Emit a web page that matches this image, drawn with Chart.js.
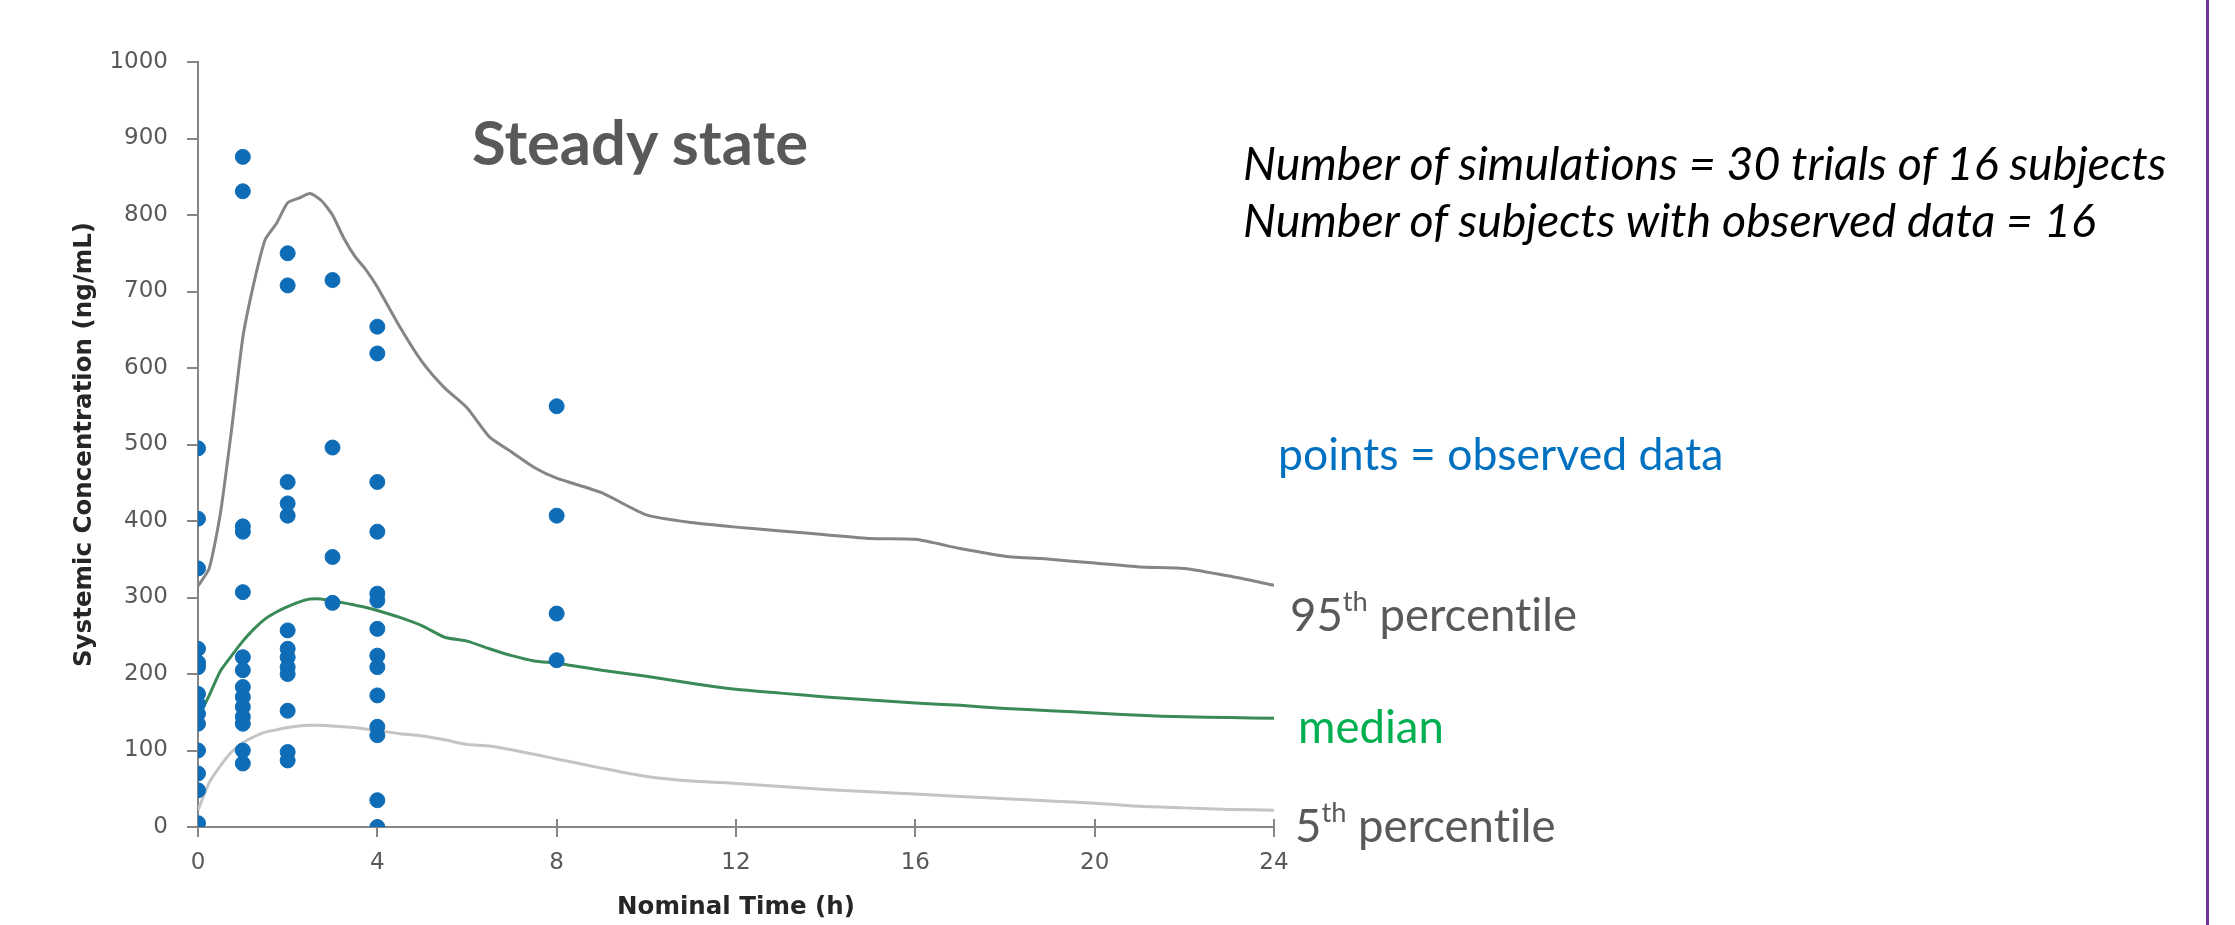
<!DOCTYPE html>
<html>
<head>
<meta charset="utf-8">
<script src="https://cdn.jsdelivr.net/npm/chart.js@4/dist/chart.umd.min.js"></script>
<style>
  html, body { margin:0; padding:0; background:#ffffff; overflow:hidden; }
  #wrap { position:relative; width:2235px; height:925px; }
  canvas { position:absolute; left:0; top:0; }
  .lbl { position:absolute; white-space:nowrap; line-height:1; font-family:Lato, "Open Sans", sans-serif; font-variant-ligatures:none; font-feature-settings:"liga" 0; }
  .mk { display:inline-block; width:0; height:0; vertical-align:baseline; }
  sup { font-size:0.6em; vertical-align:0.72em; line-height:0; }
  #vline { position:absolute; left:2206px; top:0; width:3px; height:925px; background:#7030A0; }
</style>
</head>
<body>
<div id="wrap">
  <canvas id="c" width="2235" height="925"></canvas>
  <div class="lbl" id="tSteady" style="font-size:61.5px;font-weight:bold;color:#595959;">Steady state<span class="mk"></span></div>
  <div class="lbl" id="tSim" style="font-size:46.5px;font-style:italic;color:#000000;">Number of simulations = 30 trials of 16 subjects<span class="mk"></span></div>
  <div class="lbl" id="tObs" style="font-size:46.5px;font-style:italic;color:#000000;">Number of subjects with observed data = 16<span class="mk"></span></div>
  <div class="lbl" id="tPts" style="font-size:44.5px;color:#0070C0;">points = observed data<span class="mk"></span></div>
  <div class="lbl" id="t95" style="font-size:45.5px;color:#595959;">95<sup>th</sup> percentile<span class="mk"></span></div>
  <div class="lbl" id="tMed" style="font-size:45.5px;color:#00B050;">median<span class="mk"></span></div>
  <div class="lbl" id="t5" style="font-size:45.5px;color:#595959;">5<sup>th</sup> percentile<span class="mk"></span></div>
  <div id="vline"></div>
</div>
<script>
// ---- data ----
const timeGrid = [0,0.25,0.5,0.75,1,1.25,1.5,1.75,2,2.25,2.5,2.75,3,3.25,3.5,3.75,4,4.5,5,5.5,6,6.5,7,7.5,8,9,10,11,12,13,14,15,16,17,18,19,20,21,22,23,24];
const p95Values = [315,338,410,520,640,712,768,789,816,822,828,819,800,770,746,728,706,654,608,574,548,510,490,470,456,437,408,398,392,387,382,377,376,364,354,350,345,340,338,328,316];
const medianValues = [142,172,204,224,243,259,272,281,288,294,298,298,295,293,290,287,283,274,263,248,243,233,224,217,214,205,197,188,180,175,170,166,162,159,155,152,149,146,144,143,142];
const p5Values = [22,58,80,98,110,118,124,127,130,132,133,133,132,131,130,128,126,122,119,114,108,106,101,95,89,77,66,60,57,53,49,46,43,40,37,34,31,27,25,23,22];

const obsTime = [
  0,0,0,0,0,0,0,0,0,0,0,0,0,0,
  1,1,1,1,1,1,1,1,1,1,1,1,1,1,
  2,2,2,2,2,2,2,2,2,2,2,2,2,
  3,3,3,3,
  4,4,4,4,4,4,4,4,4,4,4,4,4,4,
  8,8,8,8
];
const obsConc = [
  495,403,338,233,209,174,161,148,135,100,70,48,5,215,
  876,831,393,386,307,222,205,183,170,157,144,135,100,83,
  750,708,451,423,407,257,233,222,209,200,152,98,87,
  715,496,353,293,
  654,619,451,386,305,296,259,224,209,172,131,120,35,0,
  550,407,279,218
];

const xTicks = { min:0, max:24, step:4 };
const yTicks = { min:0, max:1000, step:100 };
const xTitle = 'Nominal Time (h)';
const yTitle = 'Systemic Concentration (ng/mL)';

// ---- chart ----
const toXY = (xs, ys) => xs.map((x, i) => ({ x: x, y: ys[i] }));
const tickFont = { family: 'DejaVu Sans', size: 23 };
const titleFont = { family: 'DejaVu Sans', size: 24.5, weight: 'bold' };
const axisGray = '#868686';

const crossTicks = {
  id: 'crossTicks',
  beforeDatasetsDraw(chart) {
    const s = chart.scales.x;
    const ctx = chart.ctx;
    ctx.save();
    ctx.strokeStyle = axisGray;
    ctx.lineWidth = 2;
    s.ticks.forEach(t => {
      const px = Math.round(s.getPixelForValue(t.value));
      ctx.beginPath();
      ctx.moveTo(px, s.top - 8);
      ctx.lineTo(px, s.top + 10);
      ctx.stroke();
    });
    ctx.restore();
  }
};

new Chart(document.getElementById('c'), {
  type: 'scatter',
  data: {
    datasets: [
      { type:'scatter', label:'observed', data: toXY(obsTime, obsConc), backgroundColor:'#0F6CB6', borderColor:'#0F6CB6', pointRadius:7.5, pointHoverRadius:7.5, order:0 },
      { type:'line', label:'median', data: toXY(timeGrid, medianValues), borderColor:'#3A8A58', borderWidth:3, pointRadius:0, fill:false, tension:0.2, order:1 },
      { type:'line', label:'95th percentile', data: toXY(timeGrid, p95Values), borderColor:'#858585', borderWidth:3, pointRadius:0, fill:false, tension:0.2, order:2 },
      { type:'line', label:'5th percentile', data: toXY(timeGrid, p5Values), borderColor:'#C4C4C4', borderWidth:3, pointRadius:0, fill:false, tension:0.2, order:3 }
    ]
  },
  options: {
    responsive: false,
    animation: false,
    layout: { padding: { left:0, top:62, right:961, bottom:0 } },
    plugins: { legend: { display:false }, tooltip: { enabled:false } },
    scales: {
      x: {
        type:'linear', min:xTicks.min, max:xTicks.max,
        ticks: { stepSize:xTicks.step, font:tickFont, color:'#595959', padding:22, maxRotation:0, callback: v => String(v) },
        grid: { drawOnChartArea:false, drawTicks:false },
        border: { color:axisGray, width:2 },
        title: { display:true, text:xTitle, font:titleFont, color:'#262626', padding:{ top:0, bottom:3 } },
        afterFit: s => { s.height = 98; }
      },
      y: {
        type:'linear', min:yTicks.min, max:yTicks.max,
        ticks: { stepSize:yTicks.step, font:tickFont, color:'#595959', padding:19, callback: v => String(v) },
        grid: { drawOnChartArea:false, drawTicks:true, tickLength:11, color:axisGray, lineWidth:2 },
        border: { color:axisGray, width:2 },
        title: { display:true, text:yTitle, font:titleFont, color:'#262626', padding:{ top:70, bottom:0 } },
        afterFit: s => { s.width = 198; }
      }
    }
  },
  plugins: [crossTicks]
});

// ---- position annotation texts by baseline ----
const labelPos = {
  tSteady: [472, 165],
  tSim: [1243, 180],
  tObs: [1243, 237],
  tPts: [1278, 470],
  t95: [1290, 631],
  tMed: [1298, 743],
  t5: [1295, 842]
};
function placeLabels() {
  const wrapTop = document.getElementById('wrap').getBoundingClientRect().top;
  Object.keys(labelPos).forEach(id => {
    const el = document.getElementById(id);
    const [l, b] = labelPos[id];
    el.style.left = l + 'px';
    el.style.top = '0px';
    const mk = el.querySelector('.mk');
    const base = mk.getBoundingClientRect().top - wrapTop;
    el.style.top = (b - base) + 'px';
  });
}
placeLabels();
if (document.fonts && document.fonts.ready) document.fonts.ready.then(placeLabels);
</script>
</body>
</html>
